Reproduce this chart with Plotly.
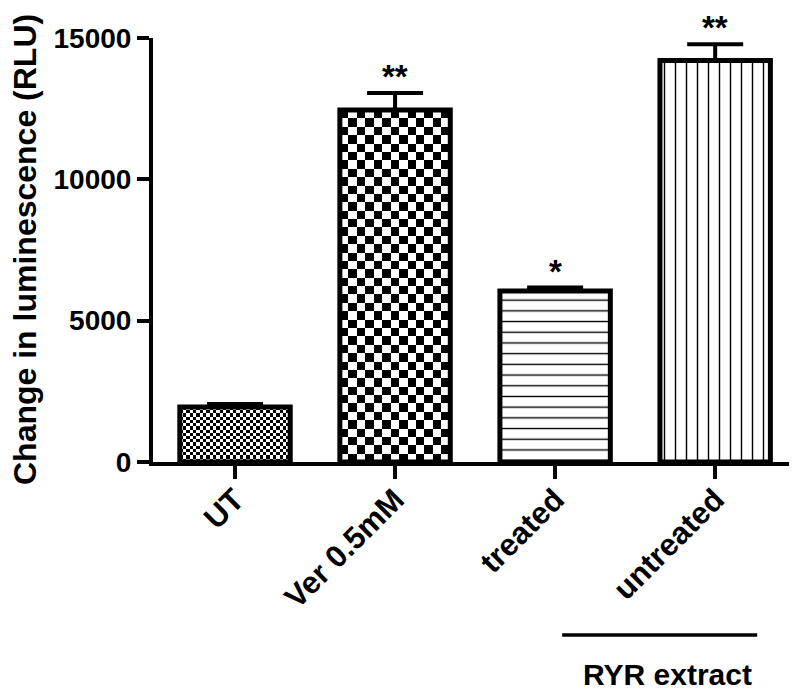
import numpy as np
import plotly.graph_objects as go

# ---- data ----
categories = ["UT", "Ver 0.5mM", "treated", "untreated"]
values = [1950, 12450, 6050, 14200]
errors = [100, 600, 120, 580]
stars = ["", "**", "*", "**"]
y_ticks = [0, 5000, 10000, 15000]
group_label = "RYR extract"
y_title = "Change in luminescence (RLU)"

# ---- style / geometry constants ----
FONT = "Liberation Sans"
BAR_W = 0.69
W, H = 789, 685            # page has an 8px body margin
ML, MR, MT, MB = 145, 5, 30, 231
XR = [-0.5125, 3.48]
YR = [0, 15000]
plot_w = W - ML - MR
plot_h = H - MT - MB
px_per_x = plot_w / (XR[1] - XR[0])
px_per_y = plot_h / (YR[1] - YR[0])

checker_px = {0: 3.3, 1: 8.3}
line_pattern = {2: ("-", 10.7), 3: ("|", 11.0)}

xs = list(range(len(categories)))
fig = go.Figure()

# checkerboard fills (heatmaps clipped to the bar rectangles)
for i, cpx in checker_px.items():
    ncol = max(1, int(round(BAR_W * px_per_x / cpx)))
    nrow = max(1, int(round(values[i] * px_per_y / cpx)))
    xe = np.linspace(xs[i] - BAR_W / 2, xs[i] + BAR_W / 2, ncol + 1)
    ye = np.linspace(0, values[i], nrow + 1)
    z = [[(r + c) % 2 for c in range(ncol)] for r in range(nrow)]
    fig.add_trace(go.Heatmap(x=xe, y=ye, z=z, zmin=0, zmax=1, zsmooth=False,
                             colorscale=[[0, "white"], [1, "black"]],
                             showscale=False, hoverinfo="skip"))

for i in xs:
    if i in line_pattern:
        shp, sz = line_pattern[i]
        marker = dict(color="white", line=dict(color="black", width=5),
                      pattern=dict(shape=shp, size=sz, solidity=0.13,
                                   fgcolor="black", bgcolor="white", fillmode="replace"))
    else:
        marker = dict(color="rgba(0,0,0,0)", line=dict(color="black", width=5))
    fig.add_trace(go.Bar(x=[xs[i]], y=[values[i]], width=BAR_W, marker=marker,
                         error_y=dict(type="data", symmetric=False, array=[errors[i]],
                                      arrayminus=[0], color="black", thickness=4, width=28),
                         showlegend=False))

for i in xs:
    if stars[i]:
        fig.add_annotation(x=xs[i], y=values[i] + errors[i], text=stars[i],
                           showarrow=False, yanchor="bottom", yshift=-4,
                           font=dict(family=FONT, size=33, color="black", weight="bold"))

# y-axis title (rotated text placed close to the page edge)
fig.add_annotation(x=(17 - ML) / plot_w, xref="paper", y=0.5, yref="paper", text=y_title,
                   textangle=-90, showarrow=False, xanchor="center", yanchor="middle",
                   font=dict(family=FONT, size=32, color="black", weight="bold"))

# group bracket
fig.add_shape(type="line", xref="x", yref="paper", x0=2.044, x1=3.2625, y0=-0.408, y1=-0.408,
              line=dict(color="black", width=3.5))
fig.add_annotation(x=2.70, xref="x", y=-0.50, yref="paper", text=group_label,
                   showarrow=False, yanchor="middle",
                   font=dict(family=FONT, size=30, color="black", weight="bold"))

fig.update_layout(
    width=W, height=H, margin=dict(l=ML, r=MR, t=MT, b=MB, autoexpand=False),
    paper_bgcolor="white", plot_bgcolor="white", showlegend=False,
    font=dict(family=FONT, color="black"),
)
fig.update_xaxes(range=XR, tickvals=xs, ticktext=categories, tickangle=-45,
                 showline=True, linewidth=4, linecolor="black", ticks="outside",
                 ticklen=13, tickwidth=4, tickcolor="black", showgrid=False, zeroline=False,
                 ticklabelstandoff=-10, automargin=False,
                 tickfont=dict(family=FONT, size=31, color="black", weight="bold"))
fig.update_yaxes(range=YR, tickvals=y_ticks, ticktext=[str(v) for v in y_ticks],
                 showline=True, linewidth=4, linecolor="black", ticks="outside",
                 ticklen=12, tickwidth=4, tickcolor="black", showgrid=False, zeroline=False,
                 automargin=False,
                 tickfont=dict(family=FONT, size=28, color="black", weight="bold"))

fig.write_html("out.html")
